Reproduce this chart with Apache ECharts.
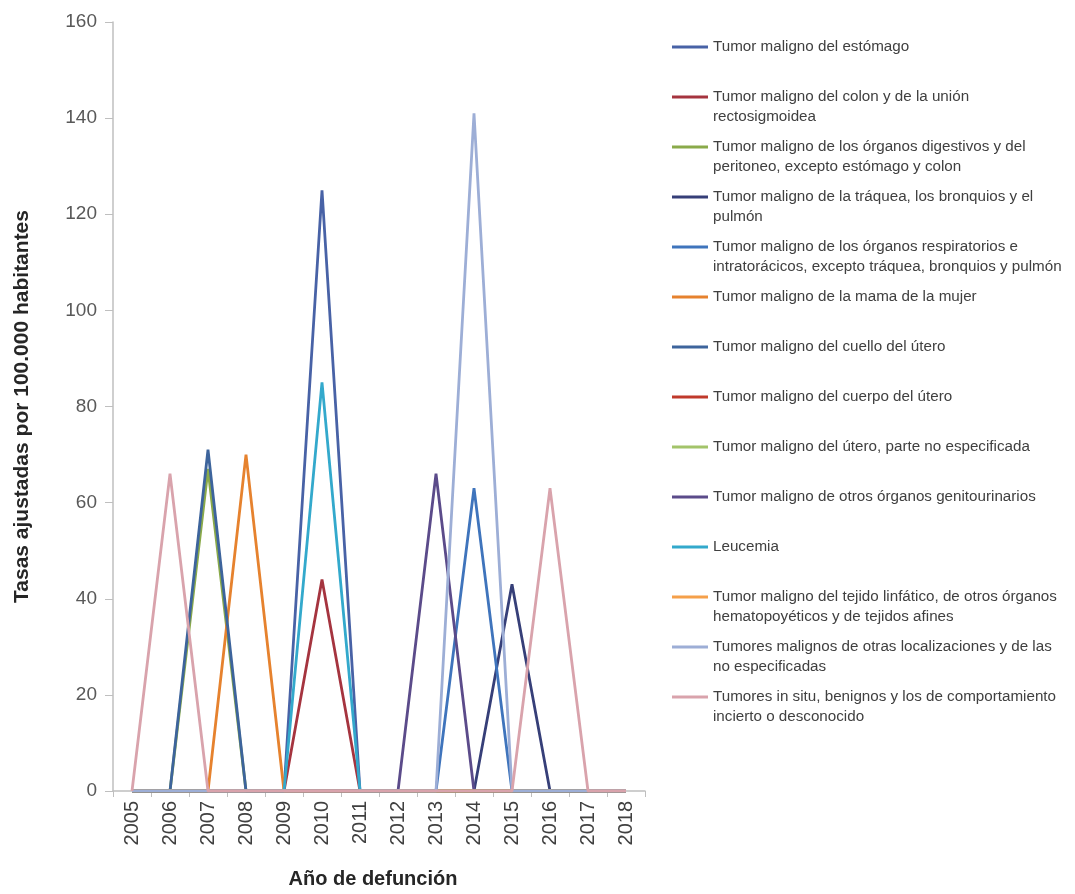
<!DOCTYPE html>
<html><head><meta charset="utf-8">
<script src="https://cdn.jsdelivr.net/npm/echarts@6/dist/echarts.min.js"></script>
<style>html,body{margin:0;padding:0;background:#fff}#c{width:1075px;height:894px}</style>
</head><body><div id="c"></div>
<script>
const years = ['2005','2006','2007','2008','2009','2010','2011','2012','2013','2014','2015','2016','2017','2018'];
const yTicks = [0,20,40,60,80,100,120,140,160];
const names = [
 'Tumor maligno del estómago',
 'Tumor maligno del colon y de la unión\nrectosigmoidea',
 'Tumor maligno de los órganos digestivos y del\nperitoneo, excepto estómago y colon',
 'Tumor maligno de la tráquea, los bronquios y el\npulmón',
 'Tumor maligno de los órganos respiratorios e\nintratorácicos, excepto tráquea, bronquios y pulmón',
 'Tumor maligno de la mama de la mujer',
 'Tumor maligno del cuello del útero',
 'Tumor maligno del cuerpo del útero',
 'Tumor maligno del útero, parte no especificada',
 'Tumor maligno de otros órganos genitourinarios',
 'Leucemia',
 'Tumor maligno del tejido linfático, de otros órganos\nhematopoyéticos y de tejidos afines',
 'Tumores malignos de otras localizaciones y de las\nno especificadas',
 'Tumores in situ, benignos y los de comportamiento\nincierto o desconocido'
];
const estomago        = [0,0,0,0,0,125,0,0,0,0,0,0,0,0];
const colon           = [0,0,0,0,0,44,0,0,0,0,0,0,0,0];
const digestivos      = [0,0,67,0,0,0,0,0,0,0,0,0,0,0];
const traquea         = [0,0,0,0,0,0,0,0,0,0,43,0,0,0];
const respiratorios   = [0,0,0,0,0,0,0,0,0,63,0,0,0,0];
const mama            = [0,0,0,70,0,0,0,0,0,0,0,0,0,0];
const cuelloUtero     = [0,0,71,0,0,0,0,0,0,0,0,0,0,0];
const cuerpoUtero     = [0,0,0,0,0,0,0,0,0,0,0,0,0,0];
const uteroNoEsp      = [0,0,0,0,0,0,0,0,0,0,0,0,0,0];
const genitourinarios = [0,0,0,0,0,0,0,0,66,0,0,0,0,0];
const leucemia        = [0,0,0,0,0,85,0,0,0,0,0,0,0,0];
const linfatico       = [0,0,0,0,0,0,0,0,0,0,0,0,0,0];
const otrasLocal      = [0,0,0,0,0,0,0,0,0,141,0,0,0,0];
const inSitu          = [0,66,0,0,0,0,0,0,0,0,0,63,0,0];
const seriesData = [estomago,colon,digestivos,traquea,respiratorios,mama,cuelloUtero,cuerpoUtero,uteroNoEsp,genitourinarios,leucemia,linfatico,otrasLocal,inSitu];
const colors = ['#4862A6','#A5343F','#8AAA4A','#363F78','#3F74BC','#E6822E','#3D649C','#C0392B','#A3C46A','#5B4B8A','#33A9CC','#F5A04A','#9DAED6','#D9A3AC'];

const chart = echarts.init(document.getElementById('c'));
const sans = "'Liberation Sans',Arial,sans-serif";
const iconPath = 'path://M0,0L0.01,0L0.01,0.01Z M0,8.6L36,8.6L36,11.6L0,11.6Z M35.99,40L36,40L36,39.99Z';
chart.setOption({
  animation:false,
  color: colors,
  grid:{left:113, top:22, width:532, height:783, containLabel:false},
  legend:{
    orient:'vertical', left:667, top:32, itemGap:10, itemWidth:36, itemHeight:40,
    icon: iconPath,
    data: names,
    formatter: n => n.indexOf('\n')>=0 ? n : n + '\n ',
    textStyle:{fontFamily:sans, fontSize:15.2, color:'#404040', lineHeight:20}
  },
  xAxis:{
    type:'category', data:years, boundaryGap:true,
    name:'Año de defunción', nameLocation:'middle', nameGap:78,
    nameTextStyle:{fontFamily:sans, fontWeight:'bold', fontSize:20, color:'#262626', padding:[0,12,0,0]},
    axisLine:{lineStyle:{color:'#BFBFBF', width:1.5}},
    axisTick:{show:true, alignWithLabel:false, length:6, lineStyle:{color:'#BFBFBF'}},
    axisLabel:{rotate:90, margin:10, fontFamily:sans, fontSize:20, color:'#404040'}
  },
  yAxis:{
    type:'value', min:0, max:160, interval:20,
    name:'Tasas ajustadas por 100.000 habitantes', nameLocation:'middle', nameGap:80, nameRotate:90,
    nameTextStyle:{fontFamily:sans, fontWeight:'bold', fontSize:21, color:'#262626'},
    axisLine:{show:true, lineStyle:{color:'#BFBFBF', width:1.5}},
    axisTick:{show:true, length:8, lineStyle:{color:'#BFBFBF'}},
    splitLine:{show:false},
    axisLabel:{margin:16, fontFamily:sans, fontSize:19, color:'#595959',
      formatter: v => yTicks.indexOf(v)>=0 ? String(v) : ''}
  },
  series: seriesData.map((d,i)=>({
    name:names[i], type:'line', data:d, showSymbol:false, symbol:'none',
    lineStyle:{width:2.8, color:colors[i]}, itemStyle:{color:colors[i]}
  }))
});
</script></body></html>
